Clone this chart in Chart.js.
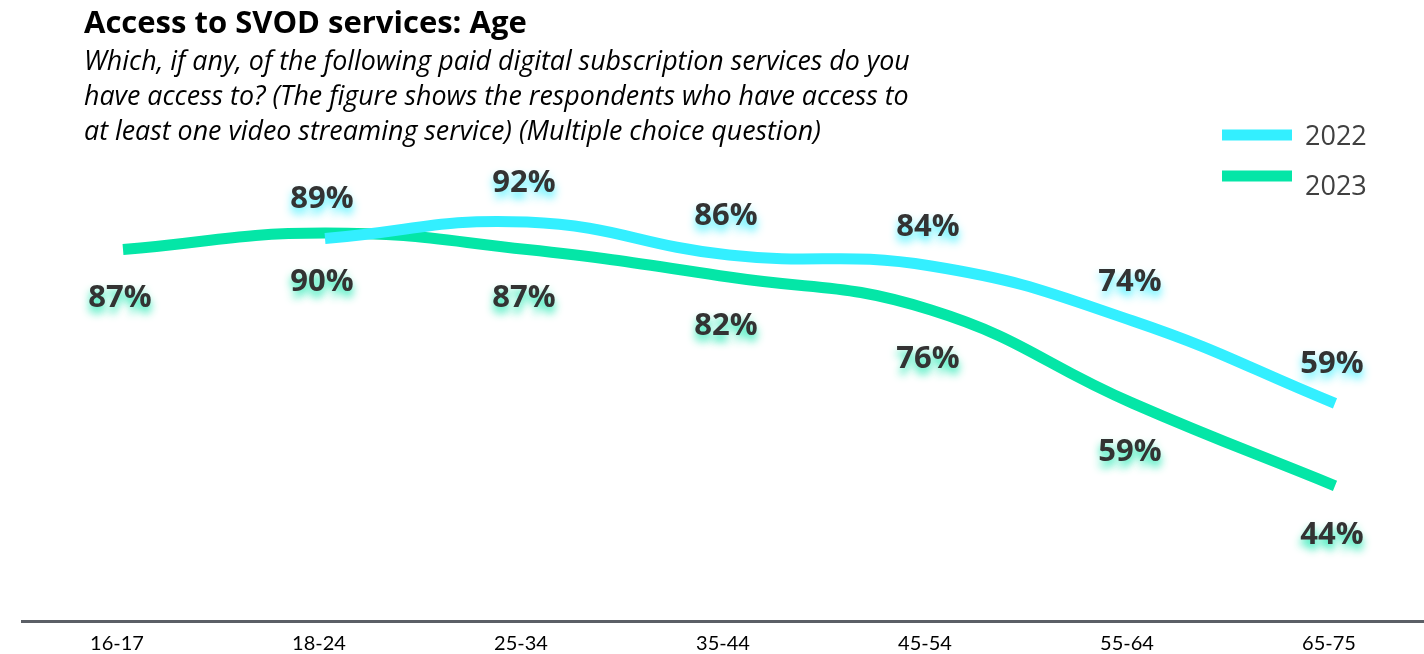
<!DOCTYPE html>
<html>
<head>
<meta charset="utf-8">
<script src="https://cdn.jsdelivr.net/npm/chart.js@4/dist/chart.umd.min.js"></script>
<style>
  html, body { margin: 0; padding: 0; background: #fff; overflow: hidden; }
  body { width: 1424px; height: 654px; position: relative; }
  #wrap { position: absolute; left: 0; top: 0; width: 1436px; height: 654px; }
  #title {
    position: absolute; left: 84px; top: 3px; margin: 0;
    font: bold 31px "Open Sans", sans-serif; line-height: 36px; color: #000; white-space: nowrap;
  }
  #subtitle {
    position: absolute; left: 84px; top: 42px; margin: 0;
    font: italic 26.8px "Open Sans", sans-serif; line-height: 35px; color: #000; white-space: nowrap;
  }
</style>
</head>
<body>
<div id="wrap"><canvas id="chart"></canvas></div>
<h1 id="title">Access to SVOD services: Age</h1>
<p id="subtitle">Which, if any, of the following paid digital subscription services do you<br>have access to? (The figure shows the respondents who have access to<br>at least one video streaming service) (Multiple choice question)</p>
<script>
// Age groups and share of respondents with access to at least one SVOD service (%)
const ageGroups = ['16-17', '18-24', '25-34', '35-44', '45-54', '55-64', '65-75'];
const share2022 = [null, 89, 92, 86, 84, 74, 59];
const share2023 = [87, 90, 87, 82, 76, 59, 44];
const seriesNames = ['2022', '2023'];

const COLOR_2022 = '#33EFFF';
const COLOR_2023 = '#04E6A7';

// Percentage labels with a soft coloured glow, above (2022) or below (2023) each point
const valueLabels = {
  id: 'valueLabels',
  afterDatasetsDraw(chart) {
    const ctx = chart.ctx;
    chart.data.datasets.forEach((ds, di) => {
      const meta = chart.getDatasetMeta(di);
      const dir = ds.labelSide === 'above' ? -1 : 1;
      meta.data.forEach((pt, i) => {
        const v = ds.data[i];
        if (v === null || v === undefined) return;
        ctx.save();
        ctx.font = 'bold 31px "Open Sans", sans-serif';
        ctx.textAlign = 'center';
        ctx.textBaseline = 'middle';
        ctx.shadowColor = ds.glowColor;
        ctx.shadowBlur = 8;
        ctx.shadowOffsetY = 6;
        ctx.fillStyle = '#333333';
        ctx.fillText(v + '%', pt.x - 3, pt.y + dir * 44 + 5);
        ctx.restore();
      });
    });
  }
};

// Legend in the top-right corner: thick line swatch + year
const cornerLegend = {
  id: 'cornerLegend',
  afterDraw(chart) {
    const ctx = chart.ctx;
    chart.data.datasets.forEach((ds, i) => {
      const lineY = 135 + i * 41;
      const textY = 137 + i * 50;
      ctx.save();
      ctx.strokeStyle = ds.borderColor;
      ctx.lineWidth = 11;
      ctx.beginPath();
      ctx.moveTo(1222, lineY);
      ctx.lineTo(1292, lineY);
      ctx.stroke();
      ctx.font = '27px "Open Sans", sans-serif';
      ctx.fillStyle = '#404040';
      ctx.textAlign = 'left';
      ctx.textBaseline = 'middle';
      ctx.fillText(ds.label, 1305, textY);
      ctx.restore();
    });
  }
};

new Chart(document.getElementById('chart'), {
  type: 'line',
  data: {
    labels: ageGroups,
    datasets: [
      {
        label: seriesNames[0],
        data: share2022,
        borderColor: COLOR_2022,
        glowColor: 'rgba(51,239,255,0.9)',
        labelSide: 'above',
        borderWidth: 11,
        tension: 0.45,
        pointRadius: 0,
        fill: false
      },
      {
        label: seriesNames[1],
        data: share2023,
        borderColor: COLOR_2023,
        glowColor: 'rgba(4,230,167,0.9)',
        labelSide: 'below',
        borderWidth: 11,
        tension: 0.45,
        pointRadius: 0,
        fill: false
      }
    ]
  },
  options: {
    responsive: true,
    maintainAspectRatio: false,
    animation: false,
    layout: { padding: { left: 22, right: 0, top: 160, bottom: 0 } },
    plugins: {
      legend: { display: false },
      tooltip: { enabled: false }
    },
    scales: {
      x: {
        offset: true,
        grid: { display: false },
        border: { display: true, color: '#5B5F66', width: 3 },
        afterFit(scale) { scale.height = 33; },
        ticks: {
          color: '#000',
          padding: 3,
          labelOffset: -6,
          font: { family: 'Lato', size: 20 }
        }
      },
      y: {
        display: false,
        min: 19.4,
        max: 103.3
      }
    }
  },
  plugins: [valueLabels, cornerLegend]
});
</script>
</body>
</html>
